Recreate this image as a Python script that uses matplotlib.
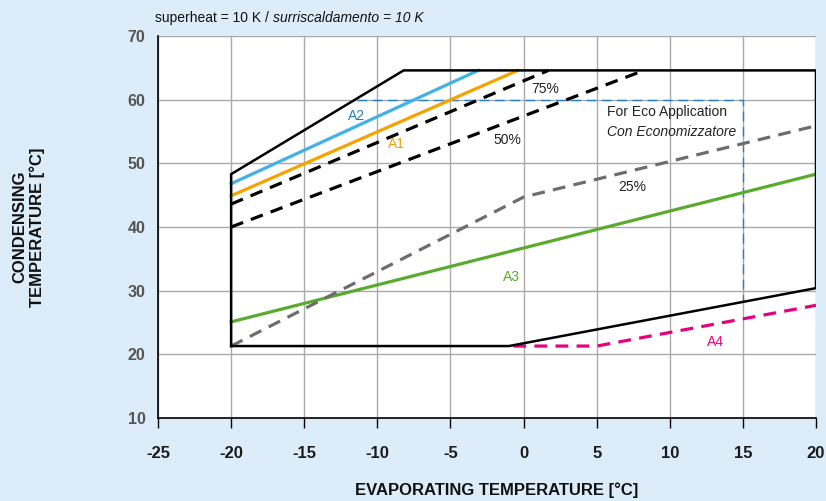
import matplotlib
matplotlib.use("Agg")
import matplotlib.pyplot as plt
from matplotlib.transforms import offset_copy

plt.rcParams["font.family"] = ["Liberation Sans", "DejaVu Sans"]

BG = "#dcecf9"

# operating envelope (evaporating, condensing)
env_x = [-20, -20, -8.2, 20, 20, -1, -20]
env_y = [21.3, 48.3, 64.6, 64.6, 30.4, 21.3, 21.3]

a2_x = [-20, -3.1]
a2_y = [46.8, 64.6]
a1_x = [-20, -0.4]
a1_y = [44.9, 64.6]
p75_x = [-20, 1.7]
p75_y = [43.6, 64.6]
p50_x = [-20, 8.0]
p50_y = [40.0, 64.4]
p25_x = [-20, 0, 20]
p25_y = [21.3, 44.7, 55.9]
a3_x = [-20, 20]
a3_y = [25.1, 48.3]
a4_x = [-0.7, 5, 20]
a4_y = [21.3, 21.3, 27.7]
eco_x = [-11.4, 15, 15]
eco_y = [60, 60, 28.2]

xticks = [-25, -20, -15, -10, -5, 0, 5, 10, 15, 20]
yticks = [10, 20, 30, 40, 50, 60, 70]

fig = plt.figure(figsize=(8.26, 5.01), dpi=100, facecolor=BG)
ax = fig.add_axes([0.1913, 0.1657, 0.7966, 0.7624])
ax.set_facecolor("white")

ax.set_xlim(-25, 20)
ax.set_ylim(10, 70)
ax.set_xticks(xticks)
ax.set_yticks(yticks)
ax.set_xticklabels([str(t) for t in xticks], fontsize=12, fontweight="bold", color="#1a1a1a")
ax.set_yticklabels([str(t) for t in yticks], fontsize=11.5, fontweight="bold", color="#555555")
ax.tick_params(axis="x", direction="out", length=7, width=1, pad=13)
ax.tick_params(axis="y", length=0, pad=9)
ax.grid(True, color="#aaaaaa", linewidth=1)
ax.set_axisbelow(True)
for side in ["top", "right"]:
    ax.spines[side].set_visible(False)
for side in ["left", "bottom"]:
    ax.spines[side].set_color("black")
    ax.spines[side].set_linewidth(1.2)

ax.plot(eco_x, eco_y, color="#2a7fc9", linewidth=1, dashes=(7, 4))
ax.plot(a3_x, a3_y, color="#5aab2d", linewidth=2.3)
ax.plot(p25_x, p25_y, color="#6d6d6d", linewidth=2.3, dashes=(4, 2.6))
ax.plot(a4_x, a4_y, color="#e6007e", linewidth=2.3, dashes=(4, 2.6))
ax.plot(p50_x, p50_y, color="black", linewidth=2.3, dashes=(4, 2.6))
ax.plot(p75_x, p75_y, color="black", linewidth=2.3, dashes=(4, 2.6))
ax.plot(a1_x, a1_y, color="#f5a300", linewidth=2.3)
ax.plot(a2_x, a2_y, color="#42b1e6", linewidth=2.3)
ax.plot(env_x, env_y, color="black", linewidth=1.8, solid_joinstyle="miter")

ax.text(-11.4, 57.4, "A2", color="#1f7cc4", fontsize=10, ha="center", va="center")
ax.text(-8.7, 53.0, "A1", color="#f0a000", fontsize=10, ha="center", va="center")
ax.text(1.5, 61.7, "75%", color="#222222", fontsize=10, ha="center", va="center")
ax.text(-1.1, 53.7, "50%", color="#222222", fontsize=10, ha="center", va="center")
ax.text(7.4, 46.3, "25%", color="#222222", fontsize=10, ha="center", va="center")
ax.text(-0.8, 32.2, "A3", color="#5aab2d", fontsize=10, ha="center", va="center")
ax.text(13.1, 22.0, "A4", color="#e6007e", fontsize=10, ha="center", va="center")
ax.text(5.7, 58.1, "For Eco Application", color="#222222", fontsize=10, ha="left", va="center")
ax.text(5.7, 55.0, "Con Economizzatore", color="#222222", fontsize=10, ha="left", va="center",
        style="italic")

# title in two parts: plain + italic
t1 = fig.text(0.1880, 0.964, "superheat = 10 K / ", fontsize=10, ha="left", va="center",
              color="#111111")
fig.canvas.draw()
w = t1.get_window_extent().width
fig.text(0.1880, 0.964, "surriscaldamento = 10 K", fontsize=10, ha="left", va="center",
         color="#111111", style="italic",
         transform=offset_copy(fig.transFigure, fig=fig, x=w, y=0, units="dots"))

fig.text(0.6017, 0.022, "EVAPORATING TEMPERATURE [°C]", fontsize=12, fontweight="bold",
         ha="center", va="center", color="#111111")
fig.text(0.035, 0.547, "CONDENSING\nTEMPERATURE [°C]", fontsize=12, fontweight="bold",
         ha="center", va="center", rotation=90, color="#111111", linespacing=1.2)

fig.savefig("out.png", dpi=100, facecolor=BG)
